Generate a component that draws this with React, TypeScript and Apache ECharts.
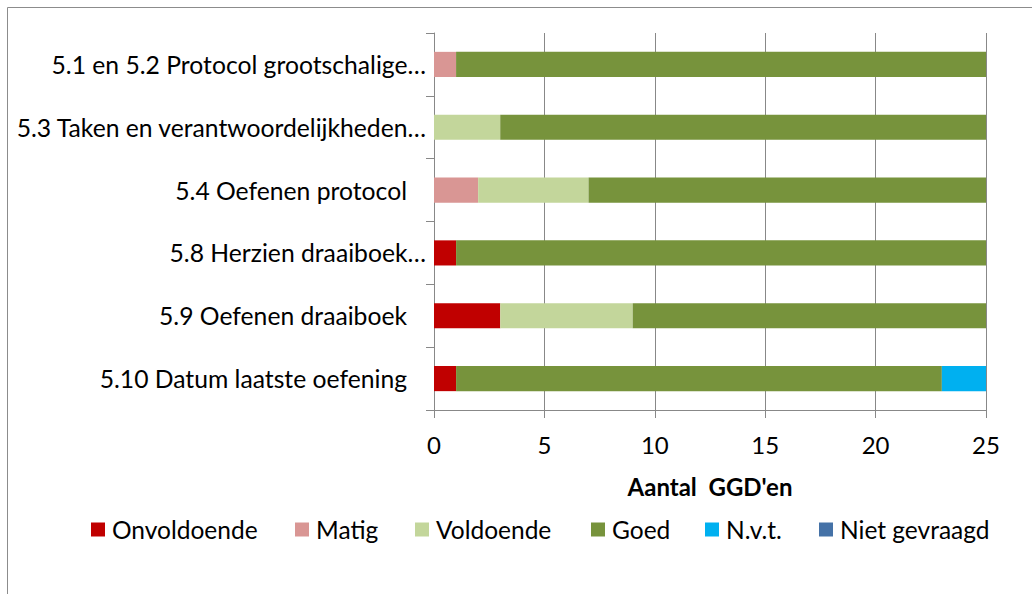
import React, { useEffect, useRef } from "react";
import * as echarts from "echarts";

const categories = [
  "5.1 en 5.2 Protocol grootschalige…",
  "5.3 Taken en verantwoordelijkheden…",
  "5.4 Oefenen protocol",
  "5.8 Herzien draaiboek…",
  "5.9 Oefenen draaiboek",
  "5.10 Datum laatste oefening",
];
const seriesNames = ["Onvoldoende", "Matig", "Voldoende", "Goed", "N.v.t.", "Niet gevraagd"];
const onvoldoende = [0, 0, 0, 1, 3, 1];
const matig = [1, 0, 2, 0, 0, 0];
const voldoende = [0, 3, 5, 0, 6, 0];
const goed = [24, 22, 18, 24, 16, 22];
const nvt = [0, 0, 0, 0, 0, 2];
const nietGevraagd = [0, 0, 0, 0, 0, 0];
const xTicks = { min: 0, max: 25, interval: 5 };
const axisTitle = "Aantal\u00a0 GGD'en";

const colors = ["#C00000", "#D99694", "#C3D69B", "#77933C", "#00B0F0", "#4572A7"];
const legendLefts = [91, 295, 415, 591, 705, 819];
const FONT = "Lato, 'Noto Sans', sans-serif";
const GRAY = "#888888";

export default function App() {
  const ref = useRef<HTMLDivElement>(null);
  useEffect(() => {
    if (!ref.current) return;
    const chart = echarts.init(ref.current, null, { renderer: "svg" });
    const values = [onvoldoende, matig, voldoende, goed, nvt, nietGevraagd];
    chart.setOption({
      animation: false,
      backgroundColor: "#ffffff",
      textStyle: { fontFamily: FONT },
      color: colors,
      graphic: [
        {
          type: "rect",
          shape: { x: 7.5, y: 7.5, width: 1100, height: 700 },
          style: { fill: "none", stroke: "#8c8c8c", lineWidth: 1 },
          silent: true,
        },
      ],
      grid: { left: 434, right: 46, top: 33, bottom: 184 },
      legend: seriesNames.map((name, i) => ({
        left: legendLefts[i],
        top: 517,
        padding: 0,
        itemWidth: 14,
        itemHeight: 14,
        itemGap: 0,
        icon: "rect",
        textStyle: { fontFamily: FONT, fontSize: 24.5, color: "#000", padding: [0, 0, 0, 2] },
        data: [name],
      })),
      xAxis: {
        type: "value",
        min: xTicks.min,
        max: xTicks.max,
        interval: xTicks.interval,
        name: axisTitle,
        nameLocation: "middle",
        nameGap: 64,
        nameTextStyle: { fontFamily: FONT, fontSize: 24, fontWeight: "bold", color: "#000" },
        axisLine: { show: true, lineStyle: { color: GRAY, width: 1 } },
        axisTick: { show: true, length: 8, lineStyle: { color: GRAY } },
        axisLabel: { fontFamily: FONT, fontSize: 24, color: "#000", margin: 22 },
        splitLine: { show: true, lineStyle: { color: GRAY, width: 1 } },
      },
      yAxis: {
        type: "category",
        inverse: true,
        data: categories,
        axisLine: { show: true, lineStyle: { color: GRAY, width: 1 } },
        axisTick: { show: true, length: 8, lineStyle: { color: GRAY } },
        axisLabel: {
          margin: 8,
          formatter: (v: string) => (v.endsWith("…") ? `{t|${v}}` : `{p|${v}}`),
          rich: {
            t: { fontFamily: FONT, fontSize: 24.7, color: "#000" },
            p: { fontFamily: FONT, fontSize: 24.7, color: "#000", padding: [0, 19, 0, 0] },
          },
        },
        splitLine: { show: false },
      },
      series: seriesNames.map((name, i) => ({
        name,
        type: "bar",
        stack: "total",
        barWidth: "40%",
        data: values[i],
        itemStyle: { color: colors[i] },
        emphasis: { disabled: true },
      })),
    });
    return () => chart.dispose();
  }, []);
  return <div ref={ref} style={{ width: 1032, height: 594, position: "absolute", left: 0, top: 0 }} />;
}
